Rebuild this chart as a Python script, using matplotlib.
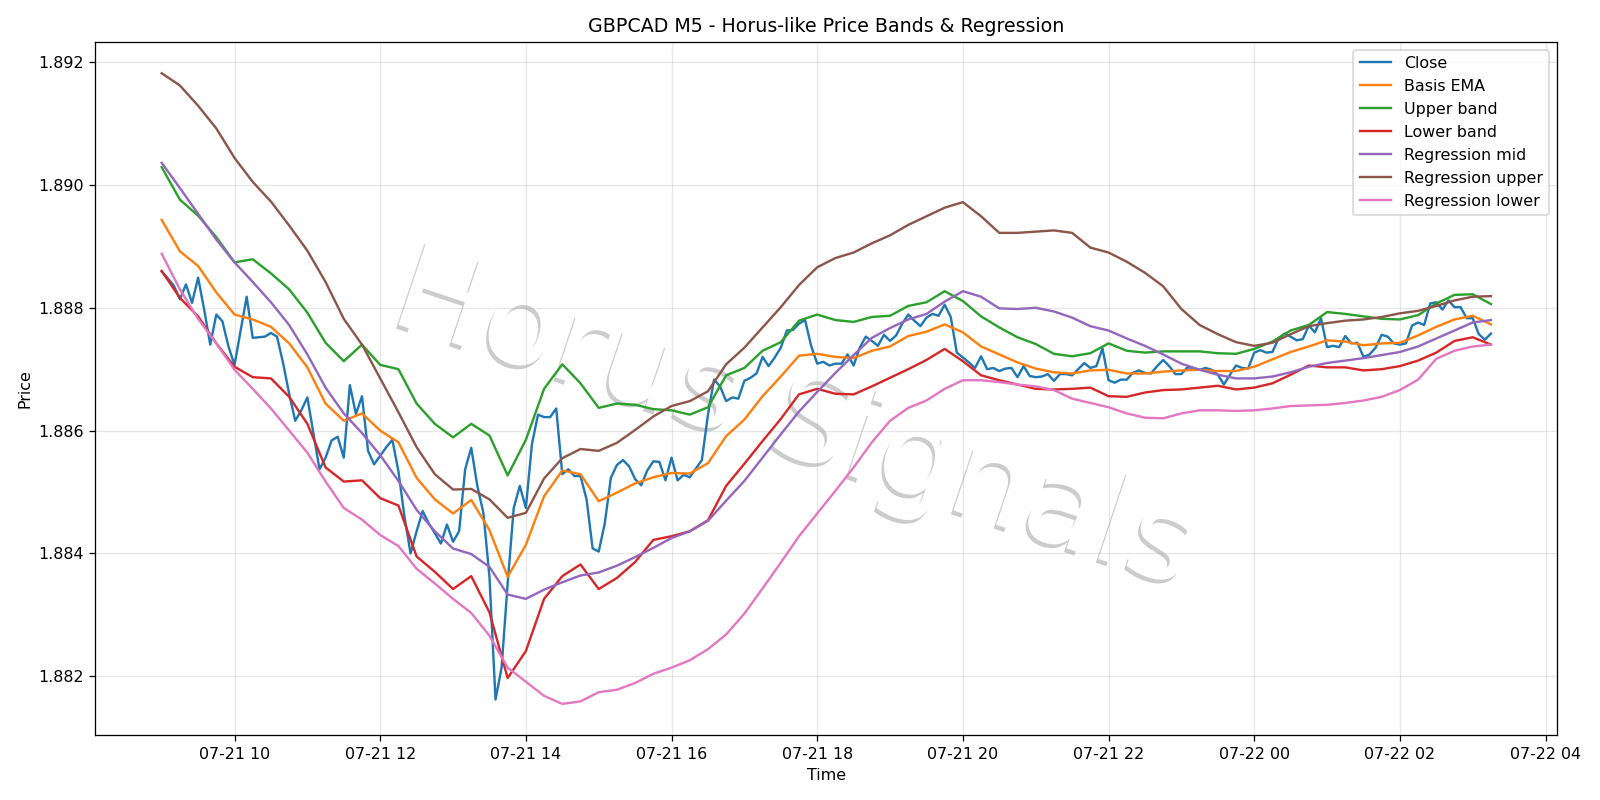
import matplotlib
matplotlib.use("Agg")
import matplotlib.pyplot as plt
import matplotlib.dates as mdates
import matplotlib.patheffects as pe
import pandas as pd

# 5-minute closes, 07-21 09:00 .. 07-22 03:15
close = [
    1.88859, 1.88848, 1.88836, 1.88814, 1.88838, 1.88808, 1.88849, 1.88797, 1.88740, 1.88789,
    1.88778, 1.88737, 1.88707, 1.88762, 1.88818, 1.88751, 1.88752, 1.88753, 1.88759, 1.88753,
    1.88710, 1.88660, 1.88616, 1.88633, 1.88654, 1.88595, 1.88537, 1.88556, 1.88584, 1.88590,
    1.88556, 1.88674, 1.88627, 1.88656, 1.88567, 1.88545, 1.88559, 1.88573, 1.88585, 1.88534,
    1.88460, 1.88400, 1.88436, 1.88469, 1.88449, 1.88433, 1.88416, 1.88447, 1.88419, 1.88436,
    1.88537, 1.88572, 1.88510, 1.88466, 1.88362, 1.88162, 1.88214, 1.88351, 1.88474, 1.88510,
    1.88474, 1.88578, 1.88626, 1.88622, 1.88622, 1.88636, 1.88529, 1.88537, 1.88526, 1.88526,
    1.88488, 1.88408, 1.88403, 1.88449, 1.88523, 1.88544, 1.88552, 1.88542, 1.88521,
    1.88511, 1.88535, 1.88550, 1.88549, 1.88519, 1.88556, 1.88519, 1.88528, 1.88524, 1.88538,
    1.88552, 1.88626, 1.88683, 1.88672, 1.88648, 1.88654, 1.88652, 1.88681, 1.88686, 1.88693,
    1.88720, 1.88705, 1.88719, 1.88735, 1.88763, 1.88764, 1.88774, 1.88780, 1.88738, 1.88709,
    1.88712, 1.88706, 1.88709, 1.88709, 1.88724, 1.88706, 1.88735, 1.88753, 1.88746, 1.88738,
    1.88756, 1.88746, 1.88755,
    1.88774, 1.88789, 1.88779, 1.88770, 1.88784, 1.88790, 1.88787, 1.88805, 1.88785, 1.88727,
    1.88719, 1.88711, 1.88702, 1.88721, 1.88700, 1.88702, 1.88697, 1.88701, 1.88702, 1.88687,
    1.88705, 1.88689, 1.88687, 1.88688, 1.88692, 1.88681, 1.88692, 1.88692, 1.88690, 1.88700,
    1.88710, 1.88702, 1.88705, 1.88734, 1.88682, 1.88678, 1.88683, 1.88683, 1.88694, 1.88698,
    1.88694, 1.88693, 1.88705,
    1.88715, 1.88705, 1.88692, 1.88692, 1.88703, 1.88702, 1.88699, 1.88702, 1.88699, 1.88691,
    1.88675, 1.88691, 1.88706, 1.88702, 1.88701, 1.88727, 1.88731, 1.88727, 1.88728, 1.88750,
    1.88758, 1.88753, 1.88747, 1.88749, 1.88771, 1.88760, 1.88783, 1.88736, 1.88738, 1.88736,
    1.88754, 1.88742, 1.88743, 1.88720, 1.88724, 1.88735, 1.88756, 1.88753, 1.88742, 1.88740,
    1.88742, 1.88771, 1.88776, 1.88772, 1.88807, 1.88809, 1.88797, 1.88812, 1.88801, 1.88801,
    1.88783, 1.88783, 1.88757, 1.88748, 1.88758,
]

# indicator lines, read every 15 minutes over the same span
basis_ema = [
    1.88943, 1.88892, 1.88868, 1.88825, 1.88789, 1.88781, 1.88769, 1.88742, 1.88703, 1.88644,
    1.88616, 1.88628, 1.88600, 1.88581, 1.88523, 1.88488, 1.88465, 1.88487, 1.88438, 1.88362,
    1.88414, 1.88493, 1.88535, 1.88529, 1.88485, 1.88499, 1.88514, 1.88524, 1.88531, 1.88530,
    1.88547, 1.88591, 1.88618, 1.88656, 1.88688, 1.88722, 1.88725, 1.88720, 1.88718, 1.88730,
    1.88737, 1.88754, 1.88761, 1.88773, 1.88760, 1.88737, 1.88724, 1.88711, 1.88701, 1.88695,
    1.88693, 1.88698, 1.88699, 1.88693, 1.88693, 1.88696, 1.88698, 1.88699, 1.88697, 1.88697,
    1.88704, 1.88716, 1.88728, 1.88737, 1.88747, 1.88745, 1.88739, 1.88742, 1.88743, 1.88755,
    1.88769, 1.88781, 1.88787, 1.88773,
]
upper_band = [
    1.89029, 1.88976, 1.88950, 1.88915, 1.88874, 1.88879, 1.88856, 1.88830, 1.88792, 1.88743,
    1.88713, 1.88740, 1.88707, 1.88700, 1.88644, 1.88611, 1.88589, 1.88611, 1.88592, 1.88527,
    1.88585, 1.88668, 1.88708, 1.88677, 1.88637, 1.88644, 1.88642, 1.88635, 1.88633, 1.88626,
    1.88638, 1.88690, 1.88702, 1.88730, 1.88744, 1.88779, 1.88789, 1.88780, 1.88777, 1.88785,
    1.88787, 1.88803, 1.88809, 1.88827, 1.88811, 1.88786, 1.88768, 1.88752, 1.88741, 1.88725,
    1.88721, 1.88726, 1.88742, 1.88730, 1.88727, 1.88729, 1.88729, 1.88729, 1.88726, 1.88725,
    1.88733, 1.88745, 1.88763, 1.88772, 1.88793, 1.88790, 1.88786, 1.88782, 1.88781, 1.88788,
    1.88807, 1.88821, 1.88822, 1.88806,
]
lower_band = [
    1.88860, 1.88816, 1.88786, 1.88742, 1.88704, 1.88687, 1.88685, 1.88655, 1.88611, 1.88540,
    1.88517, 1.88519, 1.88490, 1.88478, 1.88395, 1.88370, 1.88342, 1.88363, 1.88304, 1.88197,
    1.88241, 1.88326, 1.88363, 1.88382, 1.88342, 1.88360, 1.88386, 1.88422, 1.88428, 1.88436,
    1.88454, 1.88510, 1.88546, 1.88583, 1.88619, 1.88659, 1.88668, 1.88660, 1.88659, 1.88672,
    1.88686, 1.88700, 1.88715, 1.88733, 1.88713, 1.88690, 1.88682, 1.88675, 1.88668, 1.88667,
    1.88668, 1.88670, 1.88656, 1.88655, 1.88662, 1.88666, 1.88667, 1.88670, 1.88673, 1.88667,
    1.88670, 1.88677, 1.88691, 1.88706, 1.88703, 1.88703, 1.88698, 1.88700, 1.88705, 1.88714,
    1.88727, 1.88746, 1.88752, 1.88740,
]
reg_mid = [
    1.89036, 1.88995, 1.88953, 1.88911, 1.88874, 1.88842, 1.88809, 1.88772, 1.88724, 1.88670,
    1.88628, 1.88596, 1.88560, 1.88518, 1.88471, 1.88436, 1.88408, 1.88399, 1.88378, 1.88333,
    1.88326, 1.88341, 1.88353, 1.88364, 1.88369, 1.88380, 1.88394, 1.88409, 1.88425, 1.88436,
    1.88453, 1.88486, 1.88518, 1.88556, 1.88594, 1.88631, 1.88663, 1.88694, 1.88723, 1.88751,
    1.88767, 1.88781, 1.88790, 1.88810, 1.88827, 1.88818, 1.88799, 1.88798, 1.88800, 1.88794,
    1.88784, 1.88770, 1.88763, 1.88750, 1.88738, 1.88724, 1.88709, 1.88699, 1.88691, 1.88685,
    1.88685, 1.88688, 1.88695, 1.88704, 1.88710, 1.88714, 1.88718, 1.88723, 1.88728, 1.88737,
    1.88750, 1.88763, 1.88776, 1.88780,
]
reg_upper = [
    1.89182, 1.89162, 1.89129, 1.89092, 1.89044, 1.89005, 1.88973, 1.88934, 1.88893, 1.88842,
    1.88782, 1.88740, 1.88685, 1.88630, 1.88573, 1.88529, 1.88504, 1.88505, 1.88488, 1.88458,
    1.88466, 1.88522, 1.88555, 1.88570, 1.88567, 1.88580, 1.88601, 1.88623, 1.88640, 1.88648,
    1.88664, 1.88708, 1.88735, 1.88768, 1.88801, 1.88837, 1.88866, 1.88881, 1.88890, 1.88905,
    1.88918, 1.88935, 1.88949, 1.88963, 1.88972, 1.88949, 1.88922, 1.88922, 1.88924, 1.88926,
    1.88922, 1.88898, 1.88890, 1.88875, 1.88857, 1.88835, 1.88798, 1.88772, 1.88757, 1.88744,
    1.88738, 1.88743, 1.88757, 1.88770, 1.88775, 1.88779, 1.88781, 1.88785, 1.88791, 1.88795,
    1.88803, 1.88812, 1.88818, 1.88819,
]
reg_lower = [
    1.88888, 1.88830, 1.88782, 1.88742, 1.88699, 1.88668, 1.88636, 1.88600, 1.88564, 1.88517,
    1.88474, 1.88455, 1.88430, 1.88412, 1.88375, 1.88351, 1.88326, 1.88303, 1.88266, 1.88214,
    1.88191, 1.88168, 1.88155, 1.88159, 1.88174, 1.88178, 1.88189, 1.88204, 1.88214, 1.88226,
    1.88244, 1.88268, 1.88302, 1.88343, 1.88385, 1.88428, 1.88465, 1.88502, 1.88540, 1.88581,
    1.88616, 1.88637, 1.88649, 1.88668, 1.88682, 1.88682, 1.88679, 1.88675, 1.88672, 1.88666,
    1.88652, 1.88645, 1.88638, 1.88628, 1.88621, 1.88620, 1.88628, 1.88633, 1.88633, 1.88632,
    1.88633, 1.88636, 1.88640, 1.88641, 1.88642, 1.88645, 1.88649, 1.88655, 1.88666, 1.88683,
    1.88717, 1.88730, 1.88737, 1.88740,
]

t5 = pd.date_range("2025-07-21 09:00", periods=len(close), freq="5min")
t15 = pd.date_range("2025-07-21 09:00", periods=len(basis_ema), freq="15min")

DPI = 1600 / 14
fig, ax = plt.subplots(figsize=(14, 7), dpi=DPI)

# watermark: white letters with a soft grey drop shadow, under grid and lines
ax.text(
    0.478, 0.452, "Horus Signals",
    transform=ax.transAxes, fontsize=77, color="white",
    ha="center", va="center", rotation=-18.5, zorder=0,
    path_effects=[
        pe.withSimplePatchShadow(offset=(-1.6, -2.4), shadow_rgbFace="gray", alpha=0.4),
    ],
)

ax.plot(t5, close, label="Close")
ax.plot(t15, basis_ema, label="Basis EMA")
ax.plot(t15, upper_band, label="Upper band")
ax.plot(t15, lower_band, label="Lower band")
ax.plot(t15, reg_mid, label="Regression mid")
ax.plot(t15, reg_upper, label="Regression upper")
ax.plot(t15, reg_lower, label="Regression lower")

ax.xaxis.set_major_locator(mdates.HourLocator(byhour=range(0, 24, 2)))
ax.xaxis.set_major_formatter(mdates.DateFormatter("%m-%d %H"))
ax.ticklabel_format(axis="y", useOffset=False)
ax.grid(alpha=0.3)
ax.set_title("GBPCAD M5 - Horus-like Price Bands & Regression")
ax.set_xlabel("Time")
ax.set_ylabel("Price")
ax.legend(loc="upper right")

plt.tight_layout()
plt.savefig("out.png", dpi=DPI)
